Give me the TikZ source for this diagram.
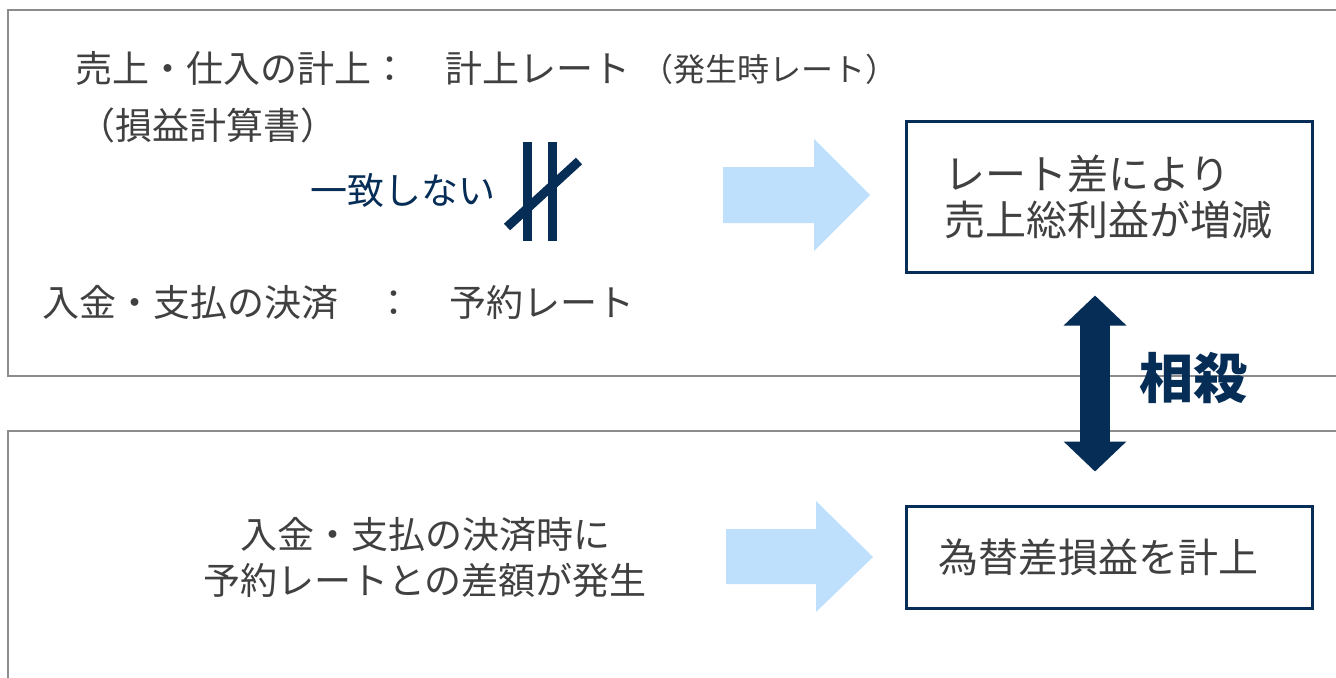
\documentclass[tikz,border=0pt]{standalone}
\usepackage{fontspec}
\setmainfont{Noto Sans CJK JP}
\usetikzlibrary{arrows.meta}
\definecolor{navy}{HTML}{052D56}
\definecolor{txtgray}{HTML}{404040}
\definecolor{panelgray}{HTML}{8C8C8C}
\definecolor{paleblue}{HTML}{BFE0FD}

\begin{document}
\begin{tikzpicture}[x=0.5pt,y=0.5pt]
\tikzstyle{every node}+=[inner sep=0pt, text=txtgray]
\tikzstyle{panel}=[draw=panelgray, line width=1.2pt]
\tikzstyle{jp}=[font=\fontsize{18.5}{23}\selectfont]
\tikzstyle{result}=[draw=navy, line width=1.5pt, rectangle, align=left, font=\fontsize{20.5}{23}\selectfont]
\tikzstyle{blockarrow}=[fill=paleblue]
\tikzstyle{notequal}=[draw=navy, line width=4.5pt]
\useasboundingbox (0,0) rectangle (1336,-677);
\clip (0,0) rectangle (1336,-677);
% panels
\draw [panel] (8,-10) rectangle (1350,-376);
\draw [panel] (8,-431) rectangle (1350,-690);
% upper panel
\node [jp, anchor=west] (keijo) at (75,-68) {売上・仕入の計上：　計上レート};
\node [anchor=west, font=\fontsize{16}{19}\selectfont] (hassei) at (641,-69) {（発生時レート）};
\node [jp, anchor=west] (pl) at (78,-125) {（損益計算書）};
\node [jp, anchor=west, text=navy] (icchi) at (310,-190) {一致しない};
\draw [notequal] (527,-142) -- (527,-241);
\draw [notequal] (552,-142) -- (552,-241);
\draw [notequal] (507,-227) -- (579,-161);
\node [jp, anchor=west] (kessai) at (42,-303) {入金・支払の決済　：　予約レート};
\fill [blockarrow] (723,-167) -- (814,-167) -- (814,-139) -- (870,-195) -- (814,-251) -- (814,-223) -- (723,-223) -- cycle;
\node [result, minimum width=203pt, minimum height=75.5pt, inner xsep=19pt, text width=165pt] (rate) at (1109,-196.5) {レート差により\\売上総利益が増減};
% lower panel
\node [jp, align=center] (sagaku) at (425,-557) {入金・支払の決済時に\\予約レートとの差額が発生};
\fill [blockarrow] (726,-529) -- (816,-529) -- (816,-501) -- (873,-557) -- (816,-612) -- (816,-584) -- (726,-584) -- cycle;
\node [result, minimum width=203pt, minimum height=51pt, inner xsep=16pt, text width=171pt, font=\fontsize{20}{23}\selectfont] (fx) at (1109,-557) {為替差損益を計上};
% offset
\draw [navy, line width=15pt, {Triangle[length=15pt,width=30.5pt]}-{Triangle[length=15pt,width=30.5pt]}] ([xshift=-7pt,yshift=-11pt]rate.south) -- ([xshift=-7pt,yshift=16.5pt]fx.north);
\node [text=navy, font=\fontsize{27}{30}\selectfont\bfseries] (sosai) at (1193,-378) {相殺};
\end{tikzpicture}
\end{document}
